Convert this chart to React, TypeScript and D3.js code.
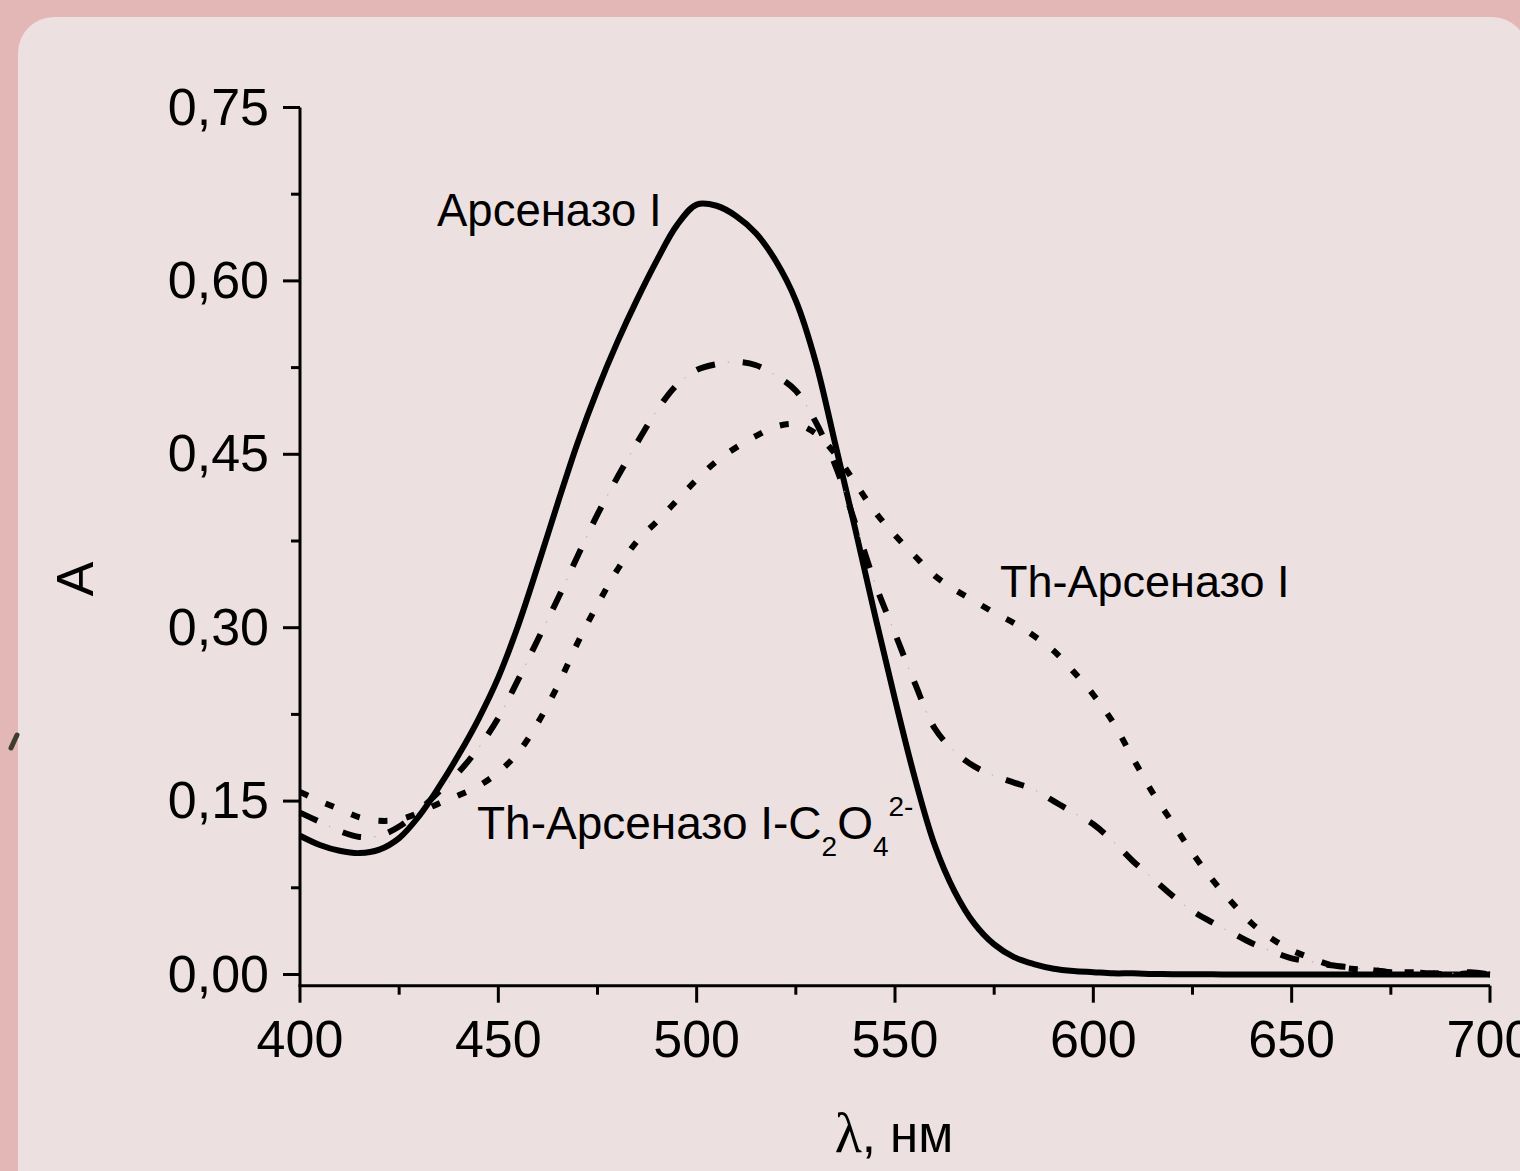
import React from "react";
import * as d3 from "d3";

// ---- Data ----
const wavelengths: number[] = [400,405,410,415,420,425,430,435,440,445,450,455,460,465,470,475,480,485,490,495,500,505,510,515,520,525,530,535,540,545,550,555,560,565,570,575,580,585,590,595,600,605,610,615,620,625,630,635,640,645,650,655,660,665,670,675,680,685,690,695,700];

const arsenazo: number[] = [0.120,0.112,0.107,0.105,0.108,0.118,0.137,0.162,0.190,0.221,0.257,0.302,0.354,0.408,0.460,0.506,0.547,0.584,0.618,0.648,0.666,0.665,0.656,0.641,0.617,0.583,0.530,0.458,0.385,0.310,0.238,0.170,0.112,0.072,0.044,0.026,0.015,0.009,0.005,0.003,0.002,0.001,0.001,0.0005,0.0003,0.0002,0.0001,0,0,0,0,0,0,0,0,0,0,0,0,0,0];

const thArsenazoOx: number[] = [0.140,0.132,0.124,0.119,0.120,0.128,0.142,0.158,0.175,0.196,0.222,0.255,0.290,0.325,0.362,0.398,0.430,0.460,0.488,0.510,0.523,0.528,0.530,0.527,0.518,0.505,0.478,0.440,0.390,0.338,0.295,0.252,0.213,0.193,0.180,0.172,0.166,0.160,0.150,0.140,0.130,0.115,0.098,0.083,0.068,0.055,0.045,0.036,0.027,0.020,0.014,0.011,0.008,0.006,0.004,0.002,0.002,0.001,0.001,0.002,0.0];

const thArsenazo: number[] = [0.158,0.150,0.143,0.136,0.133,0.134,0.140,0.148,0.155,0.163,0.175,0.192,0.218,0.250,0.287,0.320,0.350,0.375,0.392,0.410,0.428,0.444,0.456,0.466,0.474,0.476,0.468,0.450,0.425,0.400,0.380,0.362,0.345,0.333,0.323,0.313,0.304,0.293,0.280,0.262,0.242,0.218,0.187,0.157,0.131,0.105,0.082,0.062,0.044,0.031,0.021,0.014,0.008,0.005,0.004,0.002,0.002,0.001,0.0,0.001,0.0];

const xTicks: number[] = [400, 450, 500, 550, 600, 650, 700];
const xMinorTicks: number[] = [425, 475, 525, 575, 625, 675];
const yTicks: number[] = [0, 0.15, 0.3, 0.45, 0.6, 0.75];
const yMinorTicks: number[] = [0.075, 0.225, 0.375, 0.525, 0.675];

const W = 1520;
const H = 1171;
const SANS = "'Liberation Sans', Arial, sans-serif";

export default function App() {
  const x = d3.scaleLinear().domain([400, 700]).range([300, 1490]);
  const y = d3.scaleLinear().domain([-0.0097, 0.75]).range([985.7, 107.5]);
  const fmt = (v: number) => d3.format(".2f")(v).replace(".", ",");

  const line = d3
    .line<number>()
    .x((_, i) => x(wavelengths[i]))
    .y((d) => y(d))
    .curve(d3.curveCatmullRom.alpha(0.5));

  const axisY0 = y.range()[0];
  const axisX0 = x.range()[0];

  return (
    <svg
      width={W}
      height={H}
      style={{ position: "absolute", left: 0, top: 0, display: "block" }}
    >
      <rect x={0} y={0} width={W} height={H} fill="#e4b7b7" />
      <rect x={18} y={17} width={1510} height={1250} rx={36} ry={36} fill="#ede0e1" />
      <line x1={11} y1={748} x2={17} y2={735} stroke="#3d3d2e" strokeWidth={5} strokeLinecap="round" />

      {/* curves */}
      <path d={line(arsenazo) || ""} fill="none" stroke="#000" strokeWidth={6} strokeLinejoin="round" />
      <path d={line(thArsenazoOx) || ""} fill="none" stroke="#000" strokeWidth={6} strokeDasharray="19 28" />
      <path d={line(thArsenazoOx) || ""} fill="none" stroke="#aaa" strokeWidth={1} strokeDasharray="1.5 45.5" strokeDashoffset={-32} />
      <path d={line(thArsenazo) || ""} fill="none" stroke="#000" strokeWidth={6} strokeDasharray="9 19" />

      {/* axes */}
      <line x1={axisX0} y1={y(0.75)} x2={axisX0} y2={axisY0} stroke="#000" strokeWidth={3} />
      <line x1={axisX0 - 1.5} y1={axisY0} x2={x(700)} y2={axisY0} stroke="#000" strokeWidth={3} />

      {xTicks.map((t) => (
        <g key={"xt" + t}>
          <line x1={x(t)} x2={x(t)} y1={axisY0} y2={axisY0 + 17} stroke="#000" strokeWidth={3} />
          <text x={x(t)} y={1057} textAnchor="middle" fontFamily={SANS} fontSize={52} fill="#000">
            {t}
          </text>
        </g>
      ))}
      {xMinorTicks.map((t) => (
        <line key={"xm" + t} x1={x(t)} x2={x(t)} y1={axisY0} y2={axisY0 + 9} stroke="#000" strokeWidth={3} />
      ))}
      {yTicks.map((t) => (
        <g key={"yt" + t}>
          <line x1={axisX0} x2={axisX0 - 17} y1={y(t)} y2={y(t)} stroke="#000" strokeWidth={3} />
          <text x={269} y={y(t)} dy="0.33em" textAnchor="end" fontFamily={SANS} fontSize={52} fill="#000">
            {fmt(t)}
          </text>
        </g>
      ))}
      {yMinorTicks.map((t) => (
        <line key={"ym" + t} x1={axisX0} x2={axisX0 - 9} y1={y(t)} y2={y(t)} stroke="#000" strokeWidth={3} />
      ))}

      {/* axis titles */}
      <text transform="translate(93,579) rotate(-90)" textAnchor="middle" fontFamily={SANS} fontSize={52} fill="#000">
        A
      </text>
      <text x={894} y={1152} textAnchor="middle" fontFamily={SANS} fontSize={51} fill="#000">
        <tspan fontFamily="'Liberation Serif', 'Times New Roman', serif" fontSize={56}>λ</tspan>
        <tspan>, нм</tspan>
      </text>

      {/* curve labels */}
      <text x={437} y={226} fontFamily={SANS} fontSize={45.5} fill="#000">
        Арсеназо I
      </text>
      <text x={1000} y={597} fontFamily={SANS} fontSize={45} fill="#000">
        Th-Арсеназо I
      </text>
      <text x={477} y={839} fontFamily={SANS} fontSize={46} fill="#000">
        <tspan>Th-Арсеназо I-C</tspan>
        <tspan fontSize={28} dy={17}>2</tspan>
        <tspan dy={-17}>O</tspan>
        <tspan fontSize={28} dy={17}>4</tspan>
        <tspan fontSize={28} dy={-40}>2-</tspan>
      </text>
    </svg>
  );
}
